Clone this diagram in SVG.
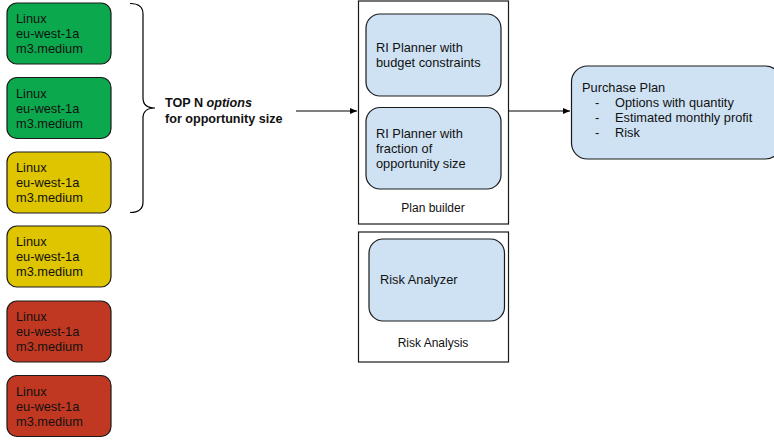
<svg xmlns="http://www.w3.org/2000/svg" width="774" height="442" viewBox="0 0 774 442">
  <defs>
    <marker id="arrow" markerWidth="8" markerHeight="8" refX="7" refY="4" orient="auto" markerUnits="userSpaceOnUse">
      <path d="M0,1 L7,4 L0,7 Z" fill="#000"/>
    </marker>
    <style>
      text { font-family: "Liberation Sans", Arial, sans-serif; font-size: 12.8px; fill: #111; }
      .inst { stroke: #1a1a1a; stroke-width: 1.2; }
      .green { fill: #0ca84e; }
      .yellow { fill: #dfc400; }
      .red { fill: #c13822; }
      .blue { fill: #cfe2f3; stroke: #1a1a1a; stroke-width: 1.2; }
      .frame { fill: #fff; stroke: #1a1a1a; stroke-width: 1.2; }
      .bold { font-weight: bold; font-size: 12.6px; }
      .small { font-size: 12px; }
      .wire { fill: none; stroke: #000; stroke-width: 1.2; }
    </style>
  </defs>

  <!-- instance options -->
  <g id="option-1">
    <rect class="inst green" x="7" y="3" width="104" height="61" rx="10"/>
    <text x="16" y="23">Linux</text><text x="16" y="38">eu-west-1a</text><text x="16" y="53">m3.medium</text>
  </g>
  <g id="option-2">
    <rect class="inst green" x="7" y="77.5" width="104" height="61" rx="10"/>
    <text x="16" y="97.5">Linux</text><text x="16" y="112.5">eu-west-1a</text><text x="16" y="127.5">m3.medium</text>
  </g>
  <g id="option-3">
    <rect class="inst yellow" x="7" y="152" width="104" height="61" rx="10"/>
    <text x="16" y="172">Linux</text><text x="16" y="187">eu-west-1a</text><text x="16" y="202">m3.medium</text>
  </g>
  <g id="option-4">
    <rect class="inst yellow" x="7" y="226" width="104" height="61" rx="10"/>
    <text x="16" y="246">Linux</text><text x="16" y="261">eu-west-1a</text><text x="16" y="276">m3.medium</text>
  </g>
  <g id="option-5">
    <rect class="inst red" x="7" y="301" width="104" height="61" rx="10"/>
    <text x="16" y="321">Linux</text><text x="16" y="336">eu-west-1a</text><text x="16" y="351">m3.medium</text>
  </g>
  <g id="option-6">
    <rect class="inst red" x="7" y="375.5" width="104" height="61" rx="10"/>
    <text x="16" y="395.5">Linux</text><text x="16" y="410.5">eu-west-1a</text><text x="16" y="425.5">m3.medium</text>
  </g>

  <!-- top N selection -->
  <g id="top-n">
    <path class="wire" d="M130,3.5 Q143,3.5 143,14 L143,98 Q143,108 155,108 Q143,108 143,118 L143,202 Q143,212.5 130,212.5"/>
    <text class="bold" x="165" y="107">TOP N <tspan font-style="italic">options</tspan></text>
    <text class="bold" x="165" y="123">for opportunity size</text>
  </g>

  <!-- plan builder -->
  <g id="plan-builder">
    <rect class="frame" x="358.5" y="1" width="150" height="223"/>
    <text class="small" x="433" y="212" text-anchor="middle">Plan builder</text>
  </g>
  <g id="planner-budget">
    <rect class="blue" x="366" y="14" width="135" height="82" rx="14"/>
    <text x="376" y="52">RI Planner with</text>
    <text x="376" y="67">budget constraints</text>
  </g>
  <g id="planner-fraction">
    <rect class="blue" x="366" y="107.5" width="135" height="81.5" rx="14"/>
    <text x="376" y="138">RI Planner with</text>
    <text x="376" y="153">fraction of</text>
    <text x="376" y="168">opportunity size</text>
  </g>

  <!-- risk analysis -->
  <g id="risk-analysis">
    <rect class="frame" x="358.5" y="232" width="150" height="130"/>
    <text class="small" x="433" y="347" text-anchor="middle">Risk Analysis</text>
  </g>
  <g id="risk-analyzer">
    <rect class="blue" x="369" y="239" width="135.5" height="82" rx="14"/>
    <text x="380" y="284">Risk Analyzer</text>
  </g>

  <!-- purchase plan -->
  <g id="purchase-plan">
    <rect class="blue" x="571.5" y="66" width="210" height="93" rx="16"/>
    <text x="582" y="92">Purchase Plan</text>
    <text x="595" y="107">-</text><text x="615" y="107">Options with quantity</text>
    <text x="595" y="122">-</text><text x="615" y="122">Estimated monthly profit</text>
    <text x="595" y="137">-</text><text x="615" y="137">Risk</text>
  </g>

  <!-- connectors -->
  <g id="connectors">
    <line class="wire" x1="296" y1="111" x2="357" y2="111" marker-end="url(#arrow)"/>
    <line class="wire" x1="508.5" y1="111" x2="570" y2="111" marker-end="url(#arrow)"/>
  </g>
</svg>
